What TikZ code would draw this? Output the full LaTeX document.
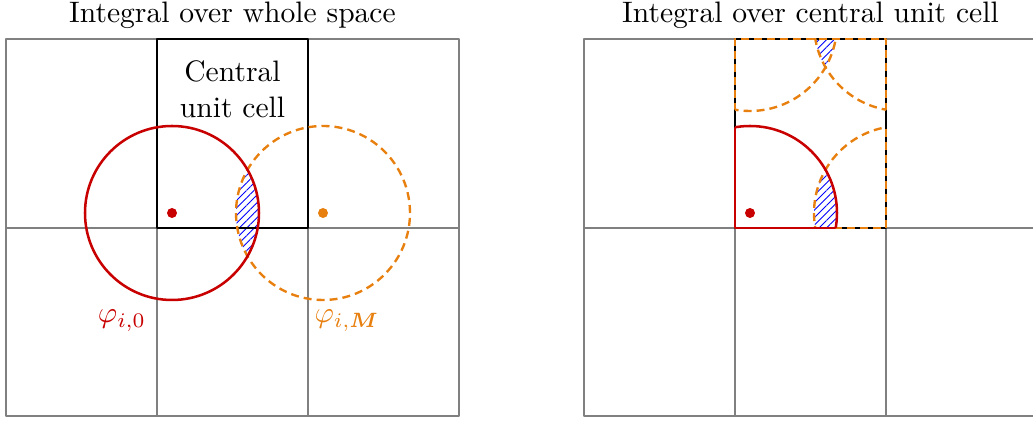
\documentclass[tikz,border=0pt]{standalone}
\usepackage{bm}
\usetikzlibrary{patterns.meta}
\definecolor{phired}{RGB}{200,0,0}
\definecolor{phiorange}{RGB}{232,128,16}
\tikzset{
  gridline/.style={draw=black!50, line width=0.65pt},
  cellline/.style={draw=black, line width=0.85pt},
  phizero/.style={draw=phired, line width=0.85pt},
  phiimage/.style={draw=phiorange, line width=0.8pt, dash pattern=on 2.7pt off 1.7pt},
  overlap/.style={pattern={Lines[angle=45, distance=1.8pt, line width=0.3pt]}, pattern color=blue},
}
\begin{document}
\begin{tikzpicture}[x=0.338pt, y=0.338pt, line join=round]
  \useasboundingbox (0,0) rectangle (1033,422);
  % left: integral over whole space
  \draw[gridline] (6,6) rectangle (459,383) (157,6) -- (157,383) (308,6) -- (308,383) (6,194) -- (459,194);
  \begin{scope}
    \clip (172,209) circle[radius=87];
    \fill[overlap] (323,209) circle[radius=87];
  \end{scope}
  \draw[cellline] (157,194) rectangle (308,383);
  \draw[phiimage] (323,209) circle[radius=87];
  \draw[phizero] (172,209) circle[radius=87];
  \fill[phired] (172,209) circle[radius=5];
  \fill[phiorange] (323,209) circle[radius=5];
  \node[anchor=base] (titlewhole) at (232.5,399) {Integral over whole space};
  \node[align=center] (celllabel) at (232.5,333) {Central\\unit cell};
  \node[anchor=base, text=phired] (phizerolabel) at (122,99) {$\varphi_{i,0}$};
  \node[anchor=base, text=phiorange] (phiMlabel) at (347,99) {$\varphi_{i,\bm{M}}$};
  % right: integral over central unit cell
  \begin{scope}[shift={(578,0)}]
    \draw[gridline] (6,6) rectangle (459,383) (157,6) -- (157,383) (308,6) -- (308,383) (6,194) -- (459,194);
    % overlap, folded back into the cell
    \begin{scope}
      \clip (157,194) rectangle (308,383);
      \begin{scope}
        \clip (172,209) circle[radius=87];
        \fill[overlap] (323,209) circle[radius=87];
      \end{scope}
      \begin{scope}
        \clip (172,398) circle[radius=87];
        \fill[overlap] (323,398) circle[radius=87];
      \end{scope}
    \end{scope}
    \draw[cellline] (157,194) rectangle (308,383);
    % periodic images, cut at the cell
    \foreach \cx/\cy in {323/209, 172/398, 323/398} {
      \begin{scope}
        \clip (157,194) rectangle (308,383);
        \draw[phiimage] (\cx,\cy) circle[radius=87];
      \end{scope}
      \begin{scope}
        \clip (\cx,\cy) circle[radius=87];
        \draw[phiimage] (157,194) rectangle (308,383);
      \end{scope}
    }
    \begin{scope}
      \clip (157,194) rectangle (308,383);
      \draw[phizero] (172,209) circle[radius=87];
    \end{scope}
    \begin{scope}
      \clip (172,209) circle[radius=87];
      \draw[phizero] (157,194) rectangle (308,383);
    \end{scope}
    \fill[phired] (172,209) circle[radius=5];
    \node[anchor=base] (titlecell) at (232.5,399) {Integral over central unit cell};
  \end{scope}
\end{tikzpicture}
\end{document}
